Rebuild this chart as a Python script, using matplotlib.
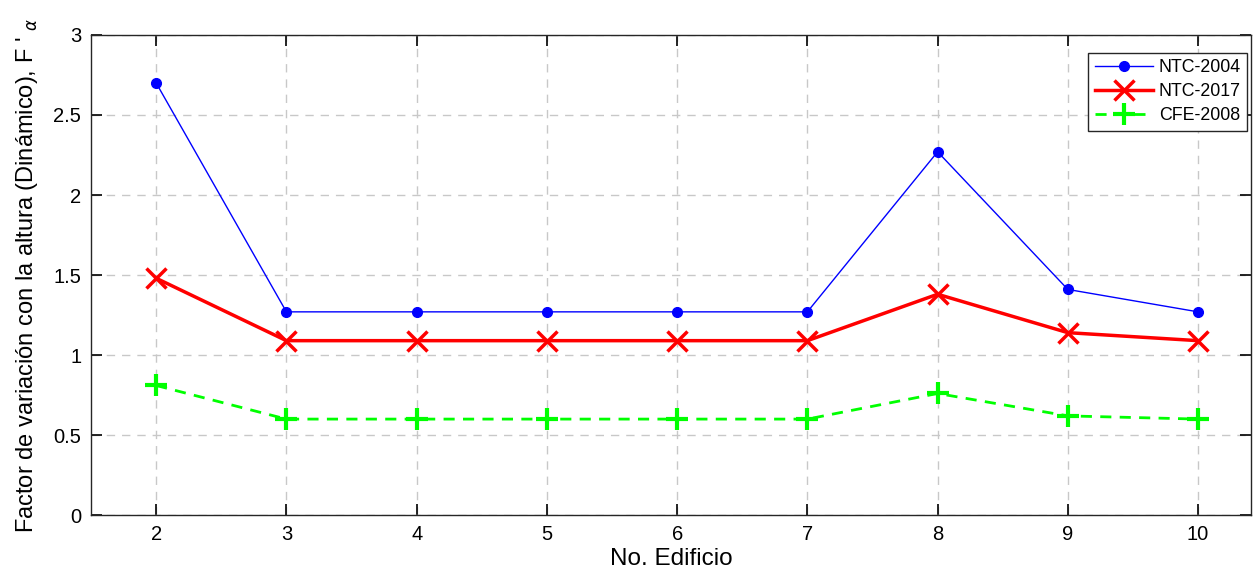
import matplotlib
matplotlib.use("Agg")
import matplotlib.pyplot as plt

plt.rcParams['font.family'] = ['Liberation Sans', 'DejaVu Sans']

edificio = [2, 3, 4, 5, 6, 7, 8, 9, 10]
ntc_2004 = [2.70, 1.27, 1.27, 1.27, 1.27, 1.27, 2.27, 1.41, 1.27]
ntc_2017 = [1.48, 1.09, 1.09, 1.09, 1.09, 1.09, 1.38, 1.14, 1.09]
cfe_2008 = [0.81, 0.60, 0.60, 0.60, 0.60, 0.60, 0.76, 0.62, 0.60]

fig = plt.figure(figsize=(12.54, 5.73), dpi=100)
ax = fig.add_axes([0.0726, 0.101, 0.9254, 0.838])

ax.plot(edificio, ntc_2004, color='#0000ff', lw=1.0, marker='o', ms=7, label='NTC-2004')
ax.plot(edificio, ntc_2017, color='#ff0000', lw=2.5, marker='x', ms=14, mew=2.5, label='NTC-2017')
ax.plot(edificio, cfe_2008, color='#00ff00', lw=2.0, ls=(0, (4, 3)), marker='+', ms=16, mew=3, label='CFE-2008')

ax.set_xlim(1.5, 10.41)
ax.set_ylim(0, 3)
ax.set_xticks(edificio)
ax.set_yticks([0, 0.5, 1, 1.5, 2, 2.5, 3])
ax.set_yticklabels(['0', '0.5', '1', '1.5', '2', '2.5', '3'])
ax.grid(True, color='#c8c8c8', ls=(0, (6, 5)), lw=1)
ax.tick_params(direction='in', length=8, width=1.2, labelsize=14.5, top=True, right=True, pad=7)
for s in ax.spines.values():
    s.set_linewidth(1.0)
    s.set_color('#262626')

ax.set_xlabel('No. Edificio', fontsize=17.5, labelpad=3)
ax.set_ylabel(r"Factor de variación con la altura (Dinámico), F ' $_\alpha$", fontsize=17, labelpad=10)

leg = ax.legend(loc='upper right', bbox_to_anchor=(0.9944, 0.9075), bbox_transform=fig.transFigure,
                fontsize=12.8, fancybox=False, edgecolor='#262626',
                framealpha=1, handlelength=3.3, borderaxespad=0, handletextpad=0.3,
                labelspacing=0.4, borderpad=0.35)
leg.get_frame().set_linewidth(1.0)

fig.savefig('out.png', dpi=100)
